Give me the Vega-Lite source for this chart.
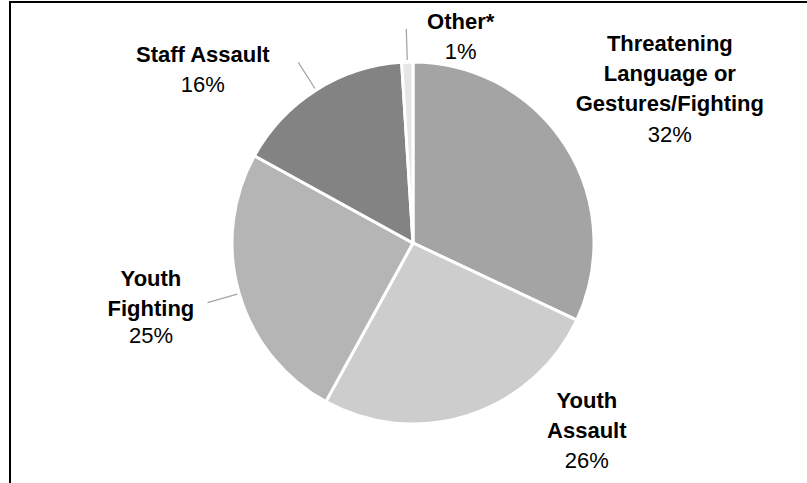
{
  "$schema": "https://vega.github.io/schema/vega-lite/v6.json",
  "width": 806,
  "height": 482,
  "autosize": {"type": "none"},
  "padding": {"left": 10, "top": 2, "right": -9, "bottom": -1},
  "background": "white",
  "view": {"style": "cell", "stroke": "#000000", "strokeWidth": 2},
  "config": {"view": {"stroke": "#000000", "strokeWidth": 2}},
  "data": {
    "values": [
      {"category": "Threatening Language or Gestures/Fighting", "label": "Threatening\nLanguage or\nGestures/Fighting", "share": 0.32, "order": 1},
      {"category": "Youth Assault", "label": "Youth\nAssault", "share": 0.26, "order": 2},
      {"category": "Youth Fighting", "label": "Youth\nFighting", "share": 0.25, "order": 3},
      {"category": "Staff Assault", "label": "Staff Assault", "share": 0.16, "order": 4},
      {"category": "Other*", "label": "Other*", "share": 0.01, "order": 5}
    ]
  },
  "encoding": {
    "theta": {"field": "share", "type": "quantitative", "stack": true},
    "order": {"field": "order", "type": "quantitative"}
  },
  "layer": [
    {
      "mark": {"type": "arc", "radius": 181, "stroke": "#ffffff", "strokeWidth": 3},
      "encoding": {
        "color": {
          "field": "category",
          "type": "nominal",
          "scale": {
            "domain": ["Threatening Language or Gestures/Fighting", "Youth Assault", "Youth Fighting", "Staff Assault", "Other*"],
            "range": ["#a4a4a4", "#cdcdcd", "#b5b5b5", "#838383", "#e6e6e6"]
          },
          "legend": null
        }
      }
    },
    {
      "mark": {"type": "arc", "radius": 214, "radius2": 183, "padAngle": 3.14, "fillOpacity": 0, "stroke": "#a6a6a6", "strokeWidth": 1.3},
      "encoding": {
        "strokeOpacity": {"condition": {"test": "datum.order <= 2", "value": 0}, "value": 1}
      }
    },
    {
      "mark": {
        "type": "text", "radius": 200, "lineBreak": "\n", "lineHeight": 30,
        "font": "Liberation Sans", "fontSize": 22, "fontWeight": "bold",
        "align": "center", "baseline": "alphabetic", "color": "#000000",
        "dx": {"expr": "[88, 112, -70, -103, 54][datum.order - 1]"},
        "dy": {"expr": "[-85, -25, -13, -12, -14][datum.order - 1]"}
      },
      "encoding": {"text": {"field": "label"}}
    },
    {
      "mark": {
        "type": "text", "radius": 200,
        "font": "Liberation Sans", "fontSize": 22,
        "align": "center", "baseline": "alphabetic", "color": "#000000",
        "dx": {"expr": "[88, 112, -70, -103, 54][datum.order - 1]"},
        "dy": {"expr": "[6, 35, 44, 18, 16][datum.order - 1]"}
      },
      "encoding": {"text": {"field": "share", "type": "quantitative", "format": ".0%"}}
    }
  ]
}
